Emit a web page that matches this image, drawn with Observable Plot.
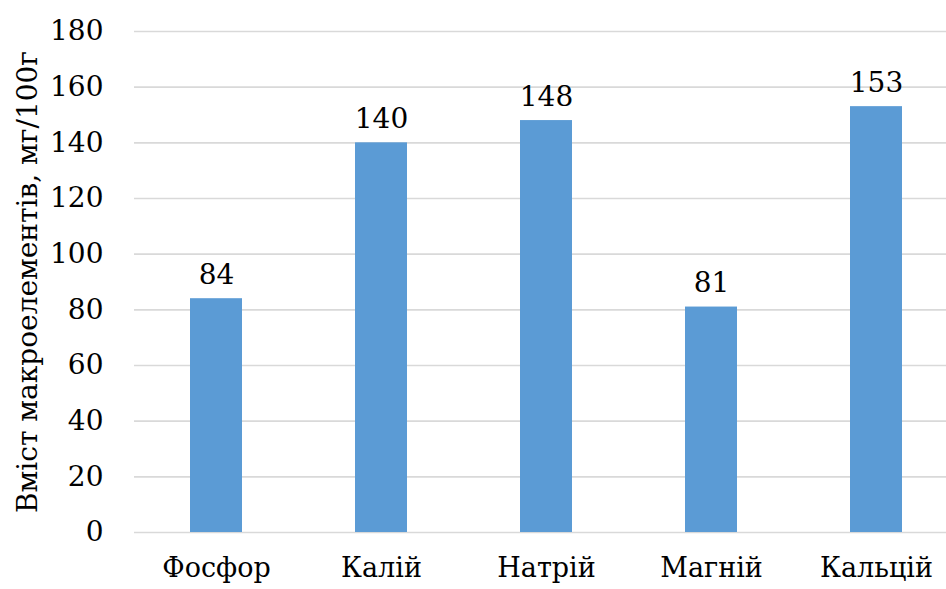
<!DOCTYPE html>
<html>
<head>
<meta charset="utf-8">
<script src="https://cdn.jsdelivr.net/npm/d3@7"></script>
<script src="https://cdn.jsdelivr.net/npm/@observablehq/plot@0.6"></script>
<style>
  html, body { margin: 0; padding: 0; background: #fff; }
  #chart svg { display: block; }
</style>
</head>
<body>
<div id="chart"></div>
<script>
// Macroelement content, mg per 100 g
const elements = ["Фосфор", "Калій", "Натрій", "Магній", "Кальцій"];
const contents = [84, 140, 148, 81, 153];
const yTicks = [0, 20, 40, 60, 80, 100, 120, 140, 160, 180];
const yLabel = "Вміст макроелементів, мг/100г";

const data = elements.map((name, i) => ({name, value: contents[i]}));

const serif = "'DejaVu Serif', serif";

const chart = Plot.plot({
  width: 946,
  height: 589,
  marginLeft: 134,
  marginRight: 0,
  marginTop: 31,
  marginBottom: 57,
  style: {background: "#fff", color: "#000", overflow: "visible", fontFamily: serif},
  x: {domain: elements, range: [133.5, 958.5], paddingInner: 0.685, paddingOuter: 0.3425, align: 0.5},
  y: {domain: [0, 180], range: [532, 31]},
  marks: [
    Plot.ruleY(yTicks, {stroke: "#d9d9d9", strokeWidth: 1.6}),
    Plot.barY(data, {x: "name", y: "value", fill: "#5b9bd5"}),
    Plot.text(data, {
      x: "name", y: "value", text: d => String(d.value),
      lineAnchor: "bottom", dy: -15, fontSize: 28, fill: "#000"
    }),
    Plot.axisY({
      ticks: yTicks, tickSize: 0, tickPadding: 31, fontSize: 28,
      label: null
    }),
    Plot.axisX({
      tickSize: 0, tickPadding: 25, fontSize: 27, label: null,
      lineAnchor: "top"
    }),
    Plot.text([yLabel], {
      frameAnchor: "left", textAnchor: "middle", dx: -106, rotate: -90,
      fontSize: 28, text: d => d, fill: "#000"
    })
  ]
});

document.getElementById("chart").appendChild(chart);
</script>
</body>
</html>
